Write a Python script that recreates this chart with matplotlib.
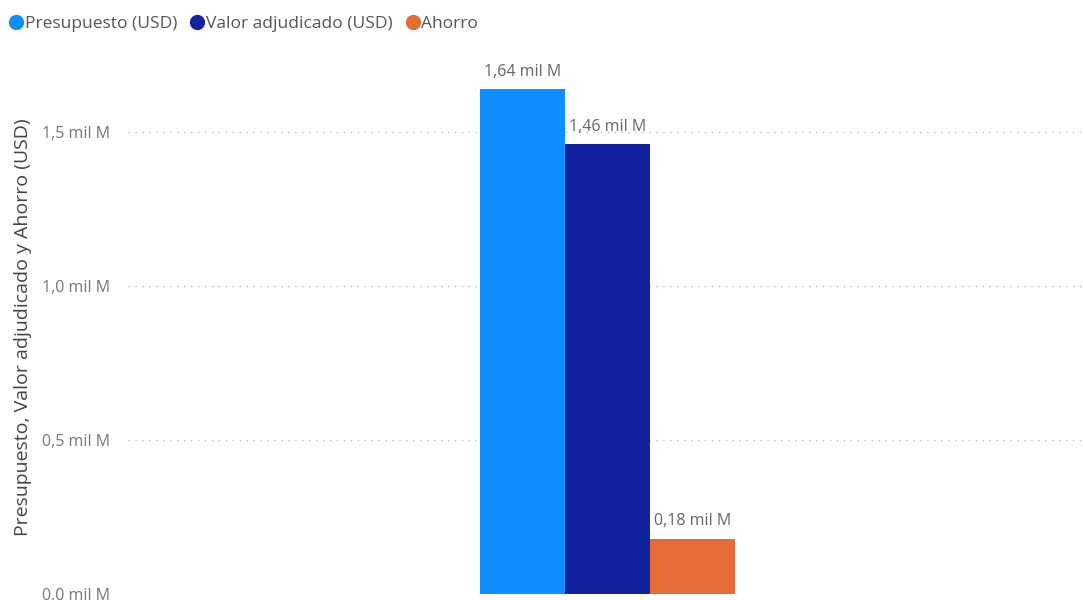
import matplotlib
matplotlib.use("Agg")
import matplotlib.pyplot as plt
from matplotlib.lines import Line2D
from matplotlib.ticker import FuncFormatter

# values in "mil M" (thousand millions USD)
series = ["Presupuesto (USD)", "Valor adjudicado (USD)", "Ahorro"]
values = [1.64, 1.46, 0.18]
labels = ["1,64 mil M", "1,46 mil M", "0,18 mil M"]
colors = ["#118DFF", "#12239E", "#E66C37"]
yticks = [0.0, 0.5, 1.0, 1.5]

plt.rcParams['font.family'] = ['Open Sans', 'DejaVu Sans']

fig = plt.figure(figsize=(10.83, 6), dpi=100)
ax = fig.add_axes([0.118, 0.01, 0.882, 0.89])

width = 0.089
offsets = [-width, 0, width]
for off, v, lab, c in zip(offsets, values, labels, colors):
    ax.bar(off, v, width=width, color=c)
    ax.text(off, v + 0.03, lab, ha="center", va="bottom", fontsize=11.5, color="#666666")

ax.set_xlim(-0.502, 0.498)
ax.set_ylim(0, 1.734)
ax.set_yticks(yticks)
ax.yaxis.set_major_formatter(FuncFormatter(lambda v, p: f"{v:.1f}".replace(".", ",") + " mil M"))
ax.tick_params(axis="y", length=0, pad=13, labelsize=11.5, labelcolor="#777777")
ax.set_xticks([])
for s in ax.spines.values():
    s.set_visible(False)
ax.grid(axis="y", linestyle=(0, (1, 4)), color="#bbbbbb", linewidth=1)
ax.set_axisbelow(True)
ax.set_ylabel("Presupuesto, Valor adjudicado y Ahorro (USD)", fontsize=14, color="#444444", labelpad=7)

handles = [Line2D([], [], marker="o", linestyle="", color=c, markersize=10) for c in colors]
fig.legend(handles, series, loc="upper left", bbox_to_anchor=(-0.009, 1.0), ncol=3, frameon=False,
           handletextpad=-0.1, columnspacing=0.55, fontsize=12.5, labelcolor="#555555",
           handlelength=1.2, borderaxespad=0.5)

fig.savefig("out.png", dpi=100)
